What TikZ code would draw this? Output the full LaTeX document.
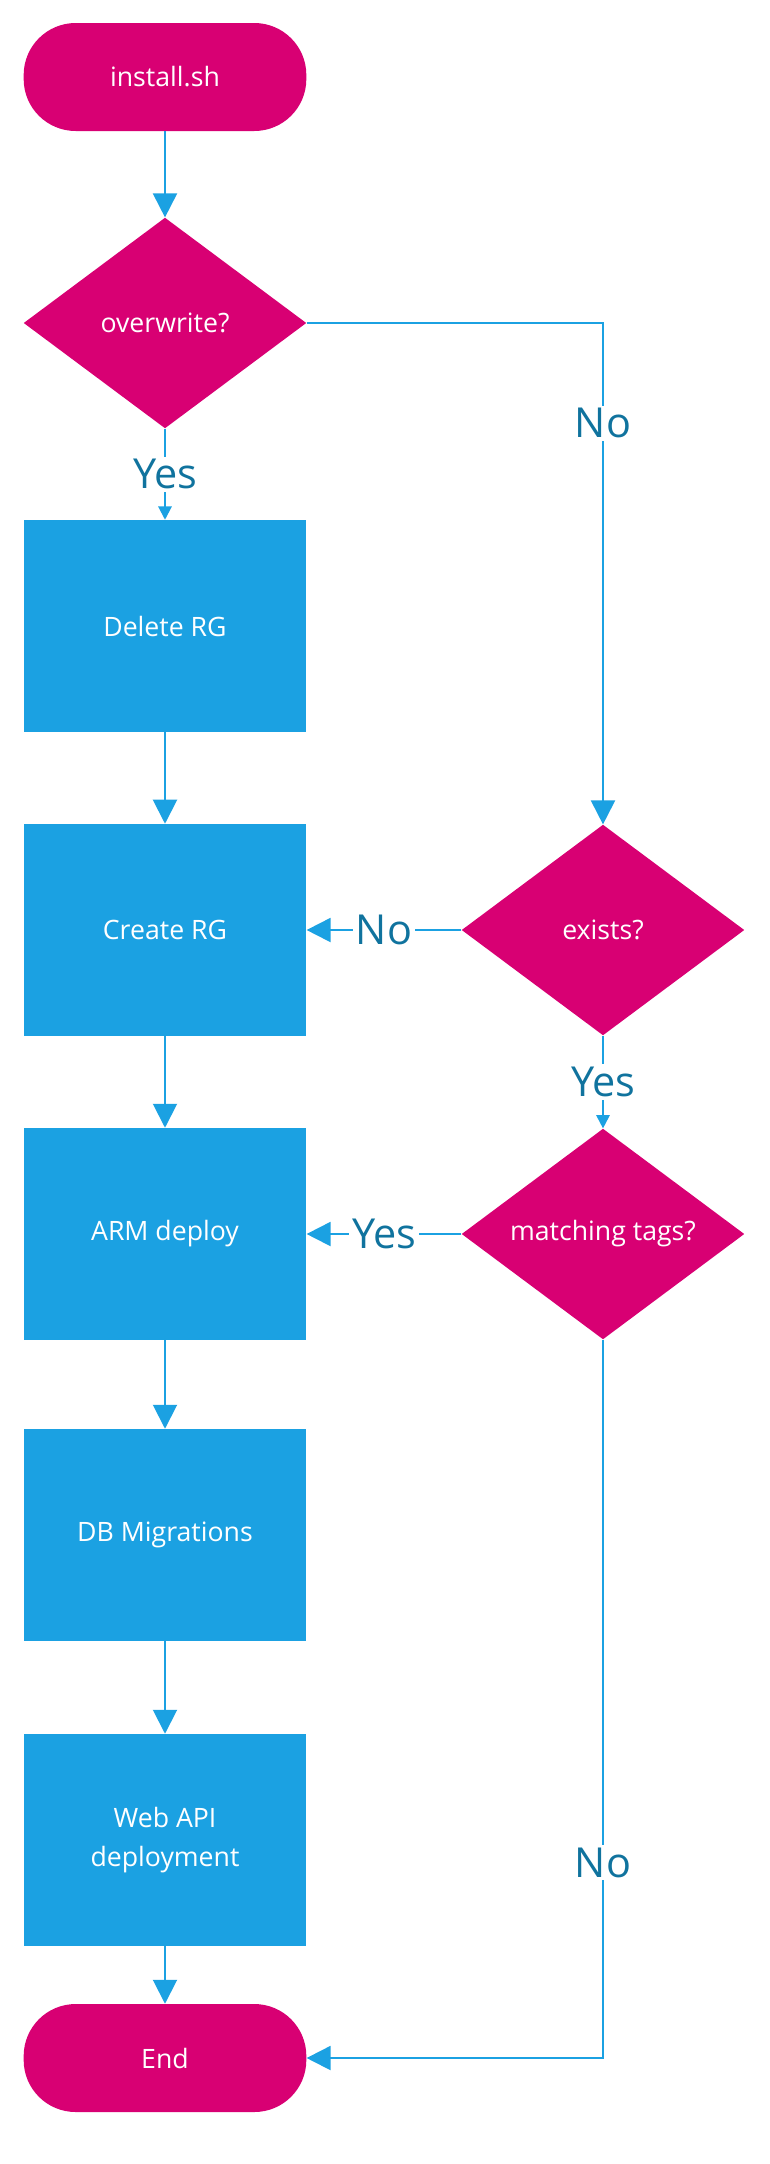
\documentclass[tikz,border=0pt]{standalone}
\usepackage{fontspec}
\setmainfont{Open Sans}
\usetikzlibrary{positioning, shapes.geometric, arrows.meta}
\definecolor{flowpink}{HTML}{D80073}
\definecolor{flowblue}{HTML}{1BA1E2}
\definecolor{labelblue}{HTML}{10739E}

\begin{document}
\begin{tikzpicture}[x=0.75pt, y=-0.75pt,
	every node/.style={align=center, text=white, font=\fontsize{20}{29}\selectfont},
	terminal/.style={rectangle, rounded corners=39pt, fill=flowpink, minimum width=212pt, minimum height=81pt},
	decision/.style={diamond, aspect=1.35, inner sep=0pt, fill=flowpink, minimum width=212pt, minimum height=158pt},
	process/.style={rectangle, fill=flowblue, minimum width=212pt, minimum height=159pt},
	flow/.style={draw=flowblue, line width=1.5pt, -{Triangle[length=18pt, width=18pt]}},
	shortflow/.style={draw=flowblue, line width=1.5pt, -{Triangle[length=10pt, width=10pt]}},
	lbl/.style={fill=white, text=labelblue, inner sep=2pt, font=\fontsize{31}{36}\selectfont}]

			\useasboundingbox (0,0) rectangle (769,2164);
			% Nodes left column
			\node[terminal] (start) at (165,77) {install.sh};
			\node[decision] (overwrite) at (165,323) {overwrite?};
			\node[process] (delete) at (165,626) {Delete RG};
			\node[process] (create) at (165,930) {Create RG};
			\node[process] (arm) at (165,1234) {ARM deploy};
			\node[process] (db) at (165,1535) {DB Migrations};
			\node[process] (webapi) at (165,1840) {Web API\\deployment};
			\node[terminal] (end) at (165,2058) {End};
			% Nodes right column
			\node[decision] (exists) at (603,930) {exists?};
			\node[decision] (tags) at (603,1234) {matching tags?};
			% Arrows left column
			\draw[flow] (start) -- (overwrite);
			\draw[shortflow] (overwrite.south) -- node[lbl] {Yes} (delete.north);
			\draw[flow] (delete) -- (create);
			\draw[flow] (create) -- (arm);
			\draw[flow] (arm) -- (db);
			\draw[flow] (db) -- (webapi);
			\draw[flow] (webapi) -- (end);
			% Arrows right column
			\draw[flow] (overwrite.east) -| node[lbl, pos=0.6] {No} (exists.north);
			\draw[flow] (exists.west) -- node[lbl] {No} (create.east);
			\draw[shortflow] (exists.south) -- node[lbl] {Yes} (tags.north);
			\draw[flow] (tags.west) -- node[lbl] {Yes} (arm.east);
			\draw[flow] (tags.south) |- node[lbl, pos=0.364] {No} (end.east);
		\end{tikzpicture}
\end{document}
